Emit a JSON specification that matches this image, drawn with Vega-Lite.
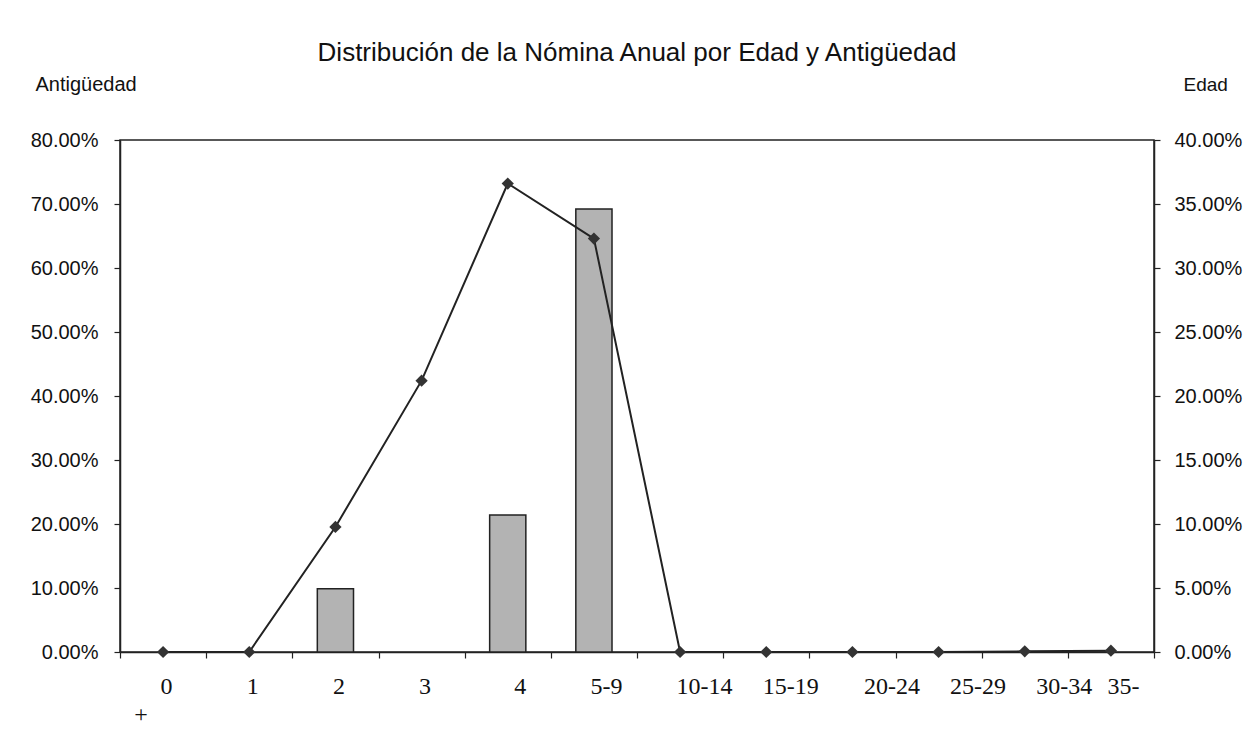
{
  "$schema": "https://vega.github.io/schema/vega-lite/v6.json",
  "width": 1034,
  "height": 512,
  "autosize": {"type": "none"},
  "padding": {"left": 120, "top": 140, "right": 104, "bottom": 94},
  "background": "white",
  "title": {
    "text": "Distribución de la Nómina Anual por Edad y Antigüedad",
    "font": "Liberation Sans",
    "fontSize": 26,
    "fontWeight": "normal",
    "color": "#111",
    "anchor": "middle",
    "frame": "group",
    "offset": 8
  },
  "config": {
    "view": {"stroke": "#222", "strokeWidth": 1.5},
    "axis": {"domainColor": "#222", "tickColor": "#222", "domainWidth": 1.5, "tickWidth": 1.2, "grid": false, "labelColor": "#111", "titleColor": "#111"}
  },
  "data": {
    "values": [
      {"cat": "0", "antig": 0, "edad": 0},
      {"cat": "1", "antig": 0, "edad": 0},
      {"cat": "2", "antig": 0.099, "edad": 0.0977},
      {"cat": "3", "antig": 0, "edad": 0.212},
      {"cat": "4", "antig": 0.214, "edad": 0.366},
      {"cat": "5-9", "antig": 0.692, "edad": 0.323},
      {"cat": "10-14", "antig": 0, "edad": 0},
      {"cat": "15-19", "antig": 0, "edad": 0},
      {"cat": "20-24", "antig": 0, "edad": 0},
      {"cat": "25-29", "antig": 0, "edad": 0},
      {"cat": "30-34", "antig": 0, "edad": 0.0005},
      {"cat": "35+", "antig": 0, "edad": 0.001}
    ]
  },
  "encoding": {
    "x": {
      "field": "cat",
      "type": "nominal",
      "scale": {"domain": ["0", "1", "2", "3", "4", "5-9", "10-14", "15-19", "20-24", "25-29", "30-34", "35+"], "paddingInner": 0, "paddingOuter": 0},
      "axis": {
        "title": null,
        "labelAngle": 0,
        "labelFont": "Liberation Serif",
        "labelFontSize": 24,
        "labelPadding": 16,
        "tickBand": "extent",
        "tickSize": 6,
        "labelOffset": {
          "condition": [
            {"test": "datum.value == '20-24' || datum.value == '25-29' || datum.value == '30-34'", "value": 39},
            {"test": "datum.value == '10-14' || datum.value == '15-19'", "value": 24},
            {"test": "datum.value == '4' || datum.value == '5-9' || datum.value == '35+'", "value": 12}
          ],
          "value": 3
        },
        "labelExpr": "datum.value == '35+' ? '35-' : datum.value"
      }
    }
  },
  "layer": [
    {
      "layer": [
        {
          "transform": [{"filter": "datum.antig > 0"}],
          "mark": {"type": "bar", "width": {"band": 0.42}, "fill": "#b3b3b3", "stroke": "#222", "strokeWidth": 1.5},
          "encoding": {
            "y": {
              "field": "antig",
              "type": "quantitative",
              "scale": {"domain": [0, 0.8], "nice": false, "zero": true},
              "axis": {
                "orient": "left",
                "title": "Antigüedad",
                "titleAngle": 0,
                "titleAlign": "left",
                "titleBaseline": "middle",
                "titleX": -85,
                "titleY": -56,
                "titleFont": "Liberation Sans",
                "titleFontSize": 20,
                "titleFontWeight": "normal",
                "values": [0, 0.1, 0.2, 0.3, 0.4, 0.5, 0.6, 0.7, 0.8],
                "format": ".2%",
                "labelFont": "Liberation Sans",
                "labelFontSize": 20,
                "labelPadding": 16,
                "tickSize": 6
              }
            }
          }
        },
        {
          "data": {"values": [{"cat": "0", "t": "+"}]},
          "mark": {"type": "text", "dx": -22, "font": "Liberation Serif", "fontSize": 24, "baseline": "middle", "color": "#111"},
          "encoding": {
            "text": {"field": "t"},
            "y": {"datum": -0.098, "type": "quantitative"}
          }
        }
      ]
    },
    {
      "encoding": {
        "y": {
          "field": "edad",
          "type": "quantitative",
          "scale": {"domain": [0, 0.4], "nice": false},
          "axis": {
            "orient": "right",
            "title": "Edad",
            "titleAngle": 0,
            "titleAlign": "left",
            "titleBaseline": "middle",
            "titleX": 29,
            "titleY": -56,
            "titleFont": "Liberation Sans",
            "titleFontSize": 19,
            "titleFontWeight": "normal",
            "values": [0, 0.05, 0.1, 0.15, 0.2, 0.25, 0.3, 0.35, 0.4],
            "format": ".2%",
            "labelFont": "Liberation Sans",
            "labelFontSize": 20,
            "labelPadding": 14,
            "tickSize": 6
          }
        }
      },
      "layer": [
        {"mark": {"type": "line", "color": "#222", "strokeWidth": 2}},
        {"mark": {"type": "point", "shape": "diamond", "filled": true, "size": 150, "color": "#333", "opacity": 1}}
      ]
    }
  ],
  "resolve": {"scale": {"y": "independent"}}
}
